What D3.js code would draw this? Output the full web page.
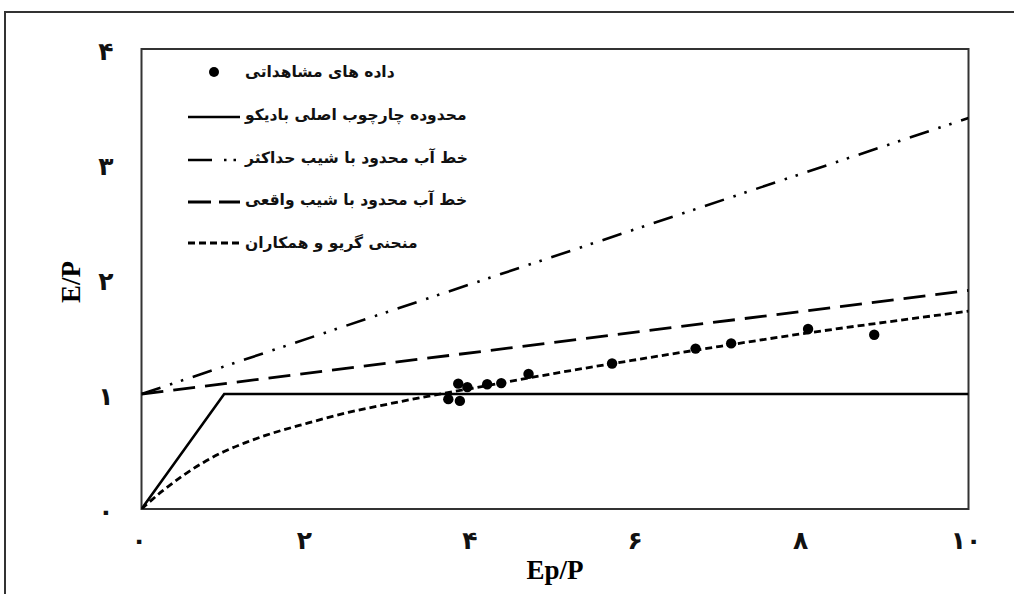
<!DOCTYPE html>
<html>
<head>
<meta charset="utf-8">
<script src="https://cdn.jsdelivr.net/npm/d3@7"></script>
<style>
  html, body { margin: 0; padding: 0; background: #fff; }
  svg { display: block; }
</style>
</head>
<body>
<svg id="chart" width="1014" height="594"></svg>
<script>
// ---- Data ----
const xTickValues = [0, 2, 4, 6, 8, 10];
const xTickLabels = ["۰", "۲", "۴", "۶", "۸", "۱۰"];
const yTickValues = [0, 1, 2, 3, 4];
const yTickLabels = ["۰", "۱", "۲", "۳", "۴"];

// Observed data
const obsX = [3.71, 3.85, 3.83, 3.94, 4.18, 4.35, 4.68, 5.69, 6.70, 7.13, 8.06, 8.86];
const obsY = [0.955, 0.94, 1.09, 1.06, 1.085, 1.095, 1.175, 1.265, 1.395, 1.44, 1.565, 1.515];

// Budyko main framework limit
const budykoX = [0, 1, 10];
const budykoY = [0, 1, 1];

// Limited water line with maximum slope
const maxSlopeX = [0, 10];
const maxSlopeY = [1, 3.40];

// Limited water line with actual slope
const realSlopeX = [0, 10];
const realSlopeY = [1, 1.90];

// Zhang et al. curve
const zhangX = [0, 0.25, 0.5, 0.75, 1, 1.25, 1.5, 2, 2.5, 3, 3.5, 4, 5, 6, 7, 8, 9, 10];
const zhangY = [0, 0.155, 0.29, 0.405, 0.50, 0.575, 0.64, 0.745, 0.84, 0.915, 0.985, 1.05, 1.18, 1.30, 1.415, 1.525, 1.625, 1.72];

const legendLabels = [
  "داده های مشاهداتی",
  "محدوده چارچوب اصلی بادیکو",
  "خط آب محدود با شیب حداکثر",
  "خط آب محدود با شیب واقعی",
  "منحنی گریو و همکاران"
];

// ---- Layout ----
const svg = d3.select("#chart");
const pLeft = 141.5, pRight = 968.5, pTop = 49, pBottom = 509;
const x = d3.scaleLinear().domain([0, 10]).range([pLeft, pRight]);
const y = d3.scaleLinear().domain([0, 4]).range([pBottom, pTop]);

const persianFont = "'DejaVu Sans', 'Noto Sans', sans-serif";

// outer frame
svg.append("rect").attr("x", 5).attr("y", 12).attr("width", 1030).attr("height", 620)
  .attr("fill", "none").attr("stroke", "#333").attr("stroke-width", 2);

// plot frame
svg.append("rect").attr("x", pLeft).attr("y", pTop).attr("width", pRight - pLeft).attr("height", pBottom - pTop)
  .attr("fill", "none").attr("stroke", "#333").attr("stroke-width", 2);

// axes (labels only)
const xAxis = d3.axisBottom(x).tickValues(xTickValues).tickSize(0)
  .tickFormat((d, i) => xTickLabels[i]);
const gx = svg.append("g").attr("transform", `translate(0,${pBottom})`).call(xAxis);
gx.select(".domain").remove();
gx.selectAll("text").attr("dy", null).attr("y", 40).attr("dx", -3)
  .attr("font-family", persianFont).attr("font-weight", "bold").attr("font-size", 25).attr("fill", "#111");

const yAxis = d3.axisLeft(y).tickValues(yTickValues).tickSize(0)
  .tickFormat((d, i) => yTickLabels[i]);
const gy = svg.append("g").attr("transform", `translate(${pLeft},0)`).call(yAxis);
gy.select(".domain").remove();
gy.selectAll("text").attr("x", -28).attr("dy", "0.4em")
  .attr("font-family", persianFont).attr("font-weight", "bold").attr("font-size", 25).attr("fill", "#111");

// axis titles
svg.append("text").attr("x", 555).attr("y", 579).attr("text-anchor", "middle")
  .attr("font-family", "'Liberation Serif', 'Times New Roman', serif").attr("font-weight", "bold")
  .attr("font-size", 27).text("Ep/P");
svg.append("text").attr("transform", "translate(80,282) rotate(-90)").attr("text-anchor", "middle")
  .attr("font-family", "'Liberation Serif', 'Times New Roman', serif").attr("font-weight", "bold")
  .attr("font-size", 27).text("E/P");

// clip
svg.append("clipPath").attr("id", "clip").append("rect")
  .attr("x", pLeft).attr("y", pTop).attr("width", pRight - pLeft).attr("height", pBottom - pTop);
const plot = svg.append("g").attr("clip-path", "url(#clip)");

const line = d3.line().x(d => x(d[0])).y(d => y(d[1]));
const zip = (a, b) => a.map((v, i) => [v, b[i]]);

plot.append("path").datum(zip(maxSlopeX, maxSlopeY)).attr("d", line)
  .attr("fill", "none").attr("stroke", "#000").attr("stroke-width", 2.6)
  .attr("stroke-dasharray", "20,10,2.5,9,2.5,10");
plot.append("path").datum(zip(realSlopeX, realSlopeY)).attr("d", line)
  .attr("fill", "none").attr("stroke", "#000").attr("stroke-width", 2.8)
  .attr("stroke-dasharray", "22,10");
plot.append("path").datum(zip(budykoX, budykoY)).attr("d", line)
  .attr("fill", "none").attr("stroke", "#000").attr("stroke-width", 2.6);
const curveLine = d3.line().x(d => x(d[0])).y(d => y(d[1])).curve(d3.curveMonotoneX);
plot.append("path").datum(zip(zhangX, zhangY)).attr("d", curveLine)
  .attr("fill", "none").attr("stroke", "#000").attr("stroke-width", 2.8)
  .attr("stroke-dasharray", "7,4");

plot.selectAll("circle.obs").data(zip(obsX, obsY)).join("circle").attr("class", "obs")
  .attr("cx", d => x(d[0])).attr("cy", d => y(d[1])).attr("r", 5.2).attr("fill", "#000");

// legend
const lg = svg.append("g");
const rowY = [72, 115, 158, 200, 243];
const lx0 = 188, lx1 = 240, tx = 245;
legendLabels.forEach((t, i) => {
  lg.append("text").attr("x", tx).attr("y", rowY[i]).attr("dy", "0.35em")
    .attr("font-family", persianFont).attr("font-weight", "bold").attr("font-size", 15.5)
    .attr("fill", "#111").text(t);
});
lg.append("circle").attr("cx", 214).attr("cy", rowY[0]).attr("r", 5).attr("fill", "#000");
lg.append("line").attr("x1", lx0).attr("x2", lx1).attr("y1", rowY[1] + 2).attr("y2", rowY[1] + 2)
  .attr("stroke", "#000").attr("stroke-width", 2.6);
lg.append("line").attr("x1", lx0).attr("x2", lx1).attr("y1", rowY[2] + 2).attr("y2", rowY[2] + 2)
  .attr("stroke", "#000").attr("stroke-width", 2.6).attr("stroke-dasharray", "24,12,2.5,7,2.5,20");
lg.append("line").attr("x1", lx0).attr("x2", lx1).attr("y1", rowY[3] + 2).attr("y2", rowY[3] + 2)
  .attr("stroke", "#000").attr("stroke-width", 2.8).attr("stroke-dasharray", "23,8");
lg.append("line").attr("x1", lx0).attr("x2", lx1).attr("y1", rowY[4]).attr("y2", rowY[4])
  .attr("stroke", "#000").attr("stroke-width", 2.8).attr("stroke-dasharray", "7,4");
</script>
</body>
</html>
